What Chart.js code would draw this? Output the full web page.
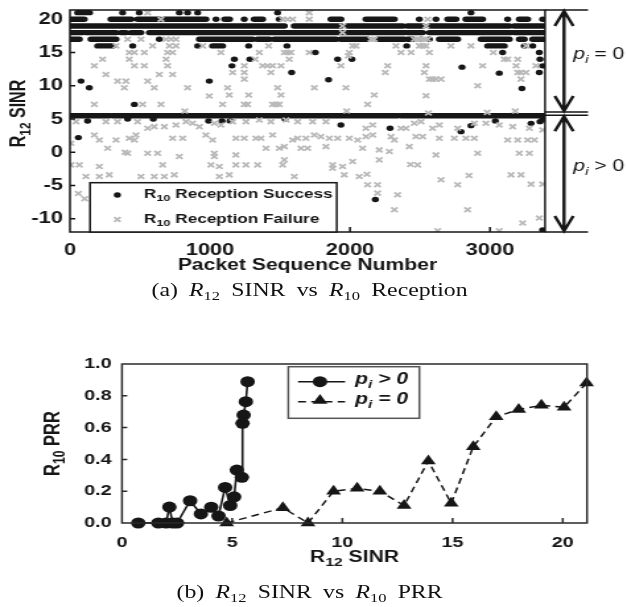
<!DOCTYPE html>
<html>
<head>
<meta charset="utf-8">
<script src="https://cdn.jsdelivr.net/npm/chart.js@4.4.1/dist/chart.umd.min.js"></script>
<style>
  html, body { margin: 0; padding: 0; background: #fff; overflow: hidden; }
  /* the whole figure is stretched sideways in the original */
  #wrap { position: relative; width: 475px; height: 607px; transform: scaleX(1.32); transform-origin: 0 0; }
  #topChart { position: absolute; left: 0; top: 0; }
  #botChart { position: absolute; left: 0; top: 330px; }
  .cap { position: absolute; left: -3px; width: 475px; text-align: center; white-space: nowrap;
         font-family: 'Liberation Serif', 'DejaVu Serif', serif; font-size: 18px; word-spacing: 4px; color: #111; }
  .cap sub { font-size: 12.5px; vertical-align: baseline; position: relative; top: 4px; }
</style>
</head>
<body>
<div id="wrap">
  <canvas id="topChart" width="475" height="282"></canvas>
  <div class="cap" style="top:280px">(a) <i>R</i><sub>12</sub> SINR vs <i>R</i><sub>10</sub> Reception</div>
  <canvas id="botChart" width="475" height="245"></canvas>
  <div class="cap" style="top:582px">(b) <i>R</i><sub>12</sub> SINR vs <i>R</i><sub>10</sub> PRR</div>
</div>
<script>
// ---------- (a) packet sequence vs R12 SINR ----------
const seqTicks = [0, 1000, 2000, 3000];
const sinrTicks = [-10, -5, 0, 5, 10, 15, 20];
const splitLevels = [6.05, 5.55]; // p_i = 0 above, p_i > 0 below

// back-to-back successes sitting on one SINR level, [first, last] packet
const runs21 = [[55, 140]];
const runs20 = [[7, 102], [293, 436], [483, 638], [674, 971], [1105, 1140], [1316, 1376], [1864, 1935], [2114, 2317], [2698, 2757], [2828, 2947], [3209, 3269]];
const runs19 = [[0, 1531], [1602, 1935], [1983, 2376], [2412, 2519], [2567, 3138], [3174, 3388]];
const runs18 = [[7, 90], [114, 329], [364, 400], [436, 507], [567, 2388], [2412, 2519], [2567, 3150], [3174, 3388]];
const runs17 = [[7, 67], [150, 329], [924, 1304], [1340, 1424], [1459, 1495], [1507, 1900], [1935, 2126], [2197, 2388], [2412, 2447], [2638, 2769], [2936, 3138], [3209, 3245], [3305, 3388]];
const runs16 = [[198, 305], [1019, 1090], [2983, 3102]];
const runs55 = [[0, 280], [305, 2340], [2365, 2545], [2565, 3165], [3185, 3388]];

// single successes [packet, SINR]
const successPts = [
  [376, 21], [495, 21], [781, 21], [840, 21], [912, 21], [1483, 21], [2864, 21],
  [1043, 20], [1245, 20], [1495, 20], [2495, 20], [2614, 20], [3126, 20], [3376, 20],
  [638, 17], [2507, 17], [2567, 17],
  [448, 16], [912, 16], [1276, 16], [1550, 16], [2405, 16], [3245, 16], [3305, 16],
  [1752, 15], [3090, 15], [3352, 15], [1174, 14], [1285, 14], [1912, 14], [2014, 14], [3357, 14],
  [1157, 13], [2800, 12.8], [3376, 13], [1583, 12], [3066, 11.9], [3352, 12],
  [79, 10.7], [995, 10.7], [1847, 10.9], [138, 9.7], [3228, 9.6], [460, 7.2],
  [412, 5.0], [595, 5.0], [1536, 5.0], [126, 4.7], [990, 4.7], [1086, 4.7], [1143, 4.7], [3038, 4.7], [3357, 4.6], [3376, 4.9],
  [1935, 4.1], [2864, 4.0], [2286, 3.6], [3293, 4.35], [2793, 3.1],
  [60, 2.2], [2181, -7.1], [3376, -11.7]
];

// failures [packet, SINR]
const failPts = [
  [555, 21], [1709, 21],
  [650, 20], [1519, 20], [1554, 20], [1590, 20], [1709, 20], [2555, 20], [1947, 19], [2543, 19], [1947, 18],
  [412, 17], [507, 17], [686, 17], [722, 17], [757, 17], [2150, 17], [2173, 17], [2459, 17], [2483, 17], [2507, 17], [2531, 17], [2555, 17],
  [329, 16], [590, 16], [710, 16], [757, 16], [948, 16], [1419, 16], [2019, 16], [2043, 16], [2328, 16], [2495, 16], [2519, 16], [2543, 16], [2721, 16], [2864, 16], [3257, 16],
  [424, 15], [460, 15], [531, 15], [697, 15], [733, 15], [1078, 15], [1352, 15], [1531, 15], [1554, 15], [1578, 15], [1709, 15], [1995, 15], [2364, 15], [2436, 15], [2567, 15], [3024, 15],
  [233, 14], [424, 14], [686, 14], [1323, 14], [1566, 14], [1988, 14.5], [3102, 14], [3126, 14], [3198, 14],
  [174, 13], [460, 13], [531, 13], [697, 13], [1245, 13], [1376, 13], [1411, 13], [1447, 13], [1507, 13], [1935, 13], [2269, 13], [2543, 13], [2947, 13], [3186, 13], [3328, 13],
  [257, 11.7], [638, 11.7], [733, 11.7], [1162, 12], [1245, 12], [1435, 12], [2252, 12], [2531, 12], [3198, 12], [3221, 12], [3257, 12],
  [340, 10.7], [400, 10.7], [555, 10.7], [1245, 11], [2567, 11], [2590, 11], [2614, 11], [2650, 11], [3221, 11],
  [388, 9.7], [602, 9.7], [840, 9.7], [1126, 9.7], [1483, 9.7], [1745, 9.7], [1971, 9.7], [2912, 10],
  [995, 8.45], [1138, 8.6], [1276, 8.6], [1507, 8.6], [2173, 8.6], [2543, 8.5],
  [174, 7.2], [519, 7.2], [650, 7.2], [1090, 7.2], [1245, 7.2], [1269, 7.2], [1447, 7.2], [1471, 7.2], [1495, 7.2], [2126, 7.2],
  [820, 6.2], [1976, 6.2], [2560, 5.9], [2980, 6.0], [3180, 6.2],
  [43, 4.6], [257, 4.6], [340, 4.6], [483, 4.6], [555, 3.6], [602, 3.85], [674, 3.85], [757, 4.1], [829, 4.6], [876, 4.35], [924, 3.85], [1031, 4.35], [1078, 4.1],
  [1162, 4.6], [1257, 4.6], [1352, 4.85], [1435, 4.6], [1543, 4.85], [1626, 4.6], [1733, 4.6], [1828, 4.6], [2114, 3.6], [2162, 4.1],
  [2364, 3.6], [2400, 3.6], [2459, 4.35], [2507, 4.6], [2590, 3.6], [2638, 4.1], [2769, 3.6], [2888, 4.35], [2971, 4.35], [3066, 4.1], [3162, 3.85], [3281, 3.6], [3376, 3.35],
  [174, 2.6], [210, 1.85], [329, 1.85], [424, 2.1], [460, 1.85], [471, 2.6], [733, 2.1], [805, 2.1], [971, 2.6], [1019, 1.85],
  [1185, 2.1], [1245, 2.1], [1328, 2.1], [1364, 2.1], [1447, 2.6], [1590, 1.85], [1626, 2.1], [1685, 2.1], [1745, 2.6], [1792, 2.35], [1852, 2.1], [1912, 2.1], [1995, 2.1], [2055, 1.85], [2114, 2.35], [2162, 2.6],
  [2293, 2.35], [2317, 1.85], [2471, 2.35], [2519, 2.35], [2638, 2.1], [2745, 2.1], [2828, 2.1], [2888, 2.1], [3126, 1.85], [3198, 1.85], [3269, 1.85], [3317, 1.85],
  [7, 1.35], [269, 0.6], [1400, 0.6], [1495, 0.6], [1531, 0.85], [1650, 0.6], [1697, 0.6], [1828, 0.85], [2090, 0.6], [2209, 0.35], [2281, 0.1], [2424, 0.85],
  [393, 0.0], [412, -0.15], [555, -0.15], [626, -0.15], [781, -0.65], [1031, -0.15], [1031, -0.65], [1185, -0.4], [2614, -0.4], [2912, -0.15], [3209, -0.15], [3281, -0.15],
  [7, -1.9], [67, -1.9], [210, -2.15], [662, -1.9], [1007, -1.9], [1067, -2.15], [1185, -1.9], [1257, -1.9], [1340, -1.9], [1519, -1.9], [1531, -1.15], [1876, -1.9], [1947, -2.15], [2019, -1.4], [2209, -1.15], [2432, -1.85], [2483, -1.9],
  [114, -3.65], [210, -3.65], [281, -3.4], [507, -3.65], [602, -3.65], [674, -3.65], [745, -3.4], [1067, -3.65], [1138, -3.4], [1602, -3.65], [1876, -2.4], [1959, -3.4], [2066, -3.65], [2121, -3.3], [2850, -3.5], [3150, -3.4], [3221, -3.4],
  [2126, -4.9], [2197, -4.9], [2650, -4.15], [2769, -4.9], [3293, -4.8], [3376, -4.8],
  [60, -6.2], [105, -7], [2197, -6.15], [2340, -6.4],
  [2317, -8.65], [2840, -8.65], [3352, -9.9], [3233, -10.65],
  [1143, -11.9], [2626, -11.8], [3066, -11.8]
];

// ---------- (b) R12 SINR vs R10 PRR ----------
const prrTicksX = [0, 5, 10, 15, 20];
const prrTicksY = [0, 0.2, 0.4, 0.6, 0.8, 1.0];
const sinrPos = [0.74, 1.65, 2.0, 2.15, 2.3, 2.5, 3.09, 3.58, 4.05, 4.38, 4.68, 4.91, 5.09, 5.21, 5.44, 5.47, 5.52, 5.62, 5.7];
const prrPos  = [0, 0, 0, 0.1, 0, 0, 0.14, 0.057, 0.099, 0.044, 0.224, 0.11, 0.165, 0.333, 0.287, 0.627, 0.679, 0.763, 0.889];
const sinrZero = [4.75, 7.3, 8.44, 9.6, 10.67, 11.7, 12.8, 13.9, 14.94, 15.94, 16.98, 18.0, 19.03, 20.06, 21.08];
const prrZero  = [0, 0.096, 0, 0.2, 0.218, 0.2, 0.11, 0.39, 0.124, 0.48, 0.668, 0.714, 0.74, 0.728, 0.88];

const INK = '#161616';
const GREY = '#b9b9b9';
const SANS = '"Liberation Sans", Arial, sans-serif';

// text with subscripts: parts = [text, isSub, isItalic]
function drawRich(ctx, parts, x, y, size, weight, align) {
  const fontFor = (sub, it) => (it ? 'italic ' : '') + weight + ' ' + (sub ? size * 0.74 : size) + 'px ' + SANS;
  let w = 0;
  parts.forEach(([t, sub, it]) => { ctx.font = fontFor(sub, it); w += ctx.measureText(t).width; });
  let cx = align === 'center' ? x - w / 2 : x;
  ctx.textAlign = 'left';
  ctx.textBaseline = 'middle';
  parts.forEach(([t, sub, it]) => {
    ctx.font = fontFor(sub, it);
    ctx.fillText(t, cx, sub ? y + size * 0.32 : y);
    cx += ctx.measureText(t).width;
  });
}

function arrow(ctx, x, y0, y1, head) {
  ctx.beginPath();
  ctx.moveTo(x, y0); ctx.lineTo(x, y1);
  ctx.moveTo(x - 7, y0 + head); ctx.lineTo(x, y0); ctx.lineTo(x + 7, y0 + head);
  ctx.moveTo(x - 7, y1 - head); ctx.lineTo(x, y1); ctx.lineTo(x + 7, y1 - head);
  ctx.stroke();
}

const tickFont = size => ({ family: SANS, weight: 'bold', size, lineHeight: 1.2 });

const topDecor = {
  id: 'topDecor',
  afterDatasetsDraw(chart) {
    const { ctx, chartArea: a, scales: { x, y } } = chart;
    ctx.save();
    ctx.strokeStyle = INK;
    ctx.fillStyle = INK;
    ctx.lineWidth = 1.5;
    ctx.strokeRect(a.left, a.top, a.right - a.left, a.bottom - a.top);
    ctx.beginPath();
    sinrTicks.forEach(v => { const py = y.getPixelForValue(v); ctx.moveTo(a.left, py); ctx.lineTo(a.left + 4, py); });
    seqTicks.slice(1).forEach(v => { const px = x.getPixelForValue(v); ctx.moveTo(px, a.bottom); ctx.lineTo(px, a.bottom - 5); });
    ctx.stroke();

    // legend
    const lx0 = 68.2, ly0 = 182.7, lx1 = 255.1;
    ctx.fillStyle = '#fff';
    ctx.fillRect(lx0, ly0, lx1 - lx0, a.bottom - ly0);
    ctx.strokeRect(lx0, ly0, lx1 - lx0, a.bottom - ly0);
    ctx.fillStyle = INK;
    Chart.helpers.drawPoint(ctx, { pointStyle: 'circle', radius: 2.7, rotation: 0, borderWidth: 0 }, 88.9, 195);
    ctx.strokeStyle = GREY; ctx.lineWidth = 1.8;
    Chart.helpers.drawPoint(ctx, { pointStyle: 'crossRot', radius: 3.4, rotation: 0, borderWidth: 1.8 }, 88.9, 219.5);
    ctx.fillStyle = INK;
    drawRich(ctx, [['R'], ['10', 1], [' Reception Success']], 109.1, 194.5, 13, 'bold', 'left');
    drawRich(ctx, [['R'], ['10', 1], [' Reception Failure']], 109.1, 219, 13, 'bold', 'left');

    // p_i brackets on the right
    const xEnd = 445.5, ax = 427.3;
    const s0 = y.getPixelForValue(splitLevels[0]), s1 = y.getPixelForValue(splitLevels[1]);
    ctx.strokeStyle = INK; ctx.lineWidth = 1.5;
    ctx.beginPath();
    [a.top, s0, s1, a.bottom].forEach(py => { ctx.moveTo(a.right, py); ctx.lineTo(xEnd, py); });
    ctx.stroke();
    ctx.lineWidth = 2.4;
    arrow(ctx, ax, a.top + 1, s0 - 1, 15);
    arrow(ctx, ax, s1 + 1, a.bottom - 1, 15);
    drawRich(ctx, [['p', 0, 1], ['i', 1, 1], [' = 0']], 434.3, 55, 16, 'normal', 'left');
    drawRich(ctx, [['p', 0, 1], ['i', 1, 1], [' > 0']], 434.3, 166.5, 16, 'normal', 'left');

    // axis titles
    drawRich(ctx, [['Packet Sequence Number']], (a.left + a.right) / 2, 265.5, 16, 'bold', 'center');
    ctx.translate(14.5, 113.5);
    ctx.rotate(-Math.PI / 2);
    drawRich(ctx, [['R'], ['12', 1], [' SINR']], 0, 0, 16, 'bold', 'center');
    ctx.restore();
  }
};

const bandRows = [[21, runs21], [20, runs20], [19, runs19], [18, runs18], [17, runs17], [16, runs16], [5.5, runs55]];

new Chart(document.getElementById('topChart'), {
  type: 'scatter',
  data: {
    datasets: [
      {
        label: 'R10 Reception Failure',
        data: failPts.map(([x, y]) => ({ x, y })),
        pointStyle: 'crossRot', pointRadius: 3.4, borderColor: GREY, borderWidth: 1.8,
        backgroundColor: 'transparent', order: 0
      },
      {
        label: 'R10 Reception Success',
        data: successPts.map(([x, y]) => ({ x, y })),
        pointStyle: 'circle', pointRadius: 2.7, backgroundColor: INK, borderWidth: 0, order: 1
      },
      ...bandRows.map(([lvl, runs]) => ({
        label: 'run ' + lvl,
        data: runs.flatMap(([s, e]) => [{ x: s, y: lvl }, { x: e, y: lvl }, { x: e, y: null }]),
        showLine: true, spanGaps: false, borderColor: INK, borderWidth: 5.4, borderCapStyle: 'round',
        pointRadius: 0, order: 1
      }))
    ]
  },
  options: {
    responsive: false,
    animation: false,
    events: [],
    layout: { padding: { left: 0, top: 10, right: 62.1, bottom: 0 } },
    plugins: { legend: { display: false }, tooltip: { enabled: false } },
    scales: {
      x: {
        type: 'linear', min: 0, max: 3393,
        grid: { display: false, drawTicks: false }, border: { display: false },
        ticks: { font: tickFont(16.5), color: INK, padding: 8.6, maxRotation: 0, callback: v => String(v) },
        afterBuildTicks: s => { s.ticks = seqTicks.map(v => ({ value: v })); },
        afterFit: s => { s.height = 50; s.paddingLeft = 0; s.paddingRight = 0; }
      },
      y: {
        min: -12, max: 21.4,
        grid: { display: false, drawTicks: false }, border: { display: false },
        ticks: { font: tickFont(16.5), color: INK, padding: 5.3, callback: v => String(v) },
        afterBuildTicks: s => { s.ticks = sinrTicks.map(v => ({ value: v })); },
        afterFit: s => { s.width = 53; s.paddingTop = 0; s.paddingBottom = 0; }
      }
    }
  },
  plugins: [topDecor]
});

const botDecor = {
  id: 'botDecor',
  afterDatasetsDraw(chart) {
    const { ctx, chartArea: a, scales: { x, y } } = chart;
    ctx.save();
    ctx.strokeStyle = '#2a2a2a';
    ctx.lineWidth = 1.5;
    ctx.strokeRect(a.left, a.top, a.right - a.left, a.bottom - a.top);
    ctx.beginPath();
    prrTicksY.slice(1, -1).forEach(v => { const py = y.getPixelForValue(v); ctx.moveTo(a.left, py); ctx.lineTo(a.left + 4, py); });
    prrTicksX.slice(1).forEach(v => { const px = x.getPixelForValue(v); ctx.moveTo(px, a.bottom); ctx.lineTo(px, a.bottom - 5); });
    ctx.stroke();

    // legend
    const lx0 = 218.4, ly0 = 36.7, lx1 = 317.7, ly1 = 88.3;
    ctx.fillStyle = '#fff';
    ctx.fillRect(lx0, ly0, lx1 - lx0, ly1 - ly0);
    ctx.strokeStyle = '#555';
    ctx.strokeRect(lx0, ly0, lx1 - lx0, ly1 - ly0);
    ctx.strokeStyle = INK; ctx.fillStyle = INK; ctx.lineWidth = 1.6;
    ctx.beginPath(); ctx.moveTo(225.8, 51.7); ctx.lineTo(261.4, 51.7); ctx.stroke();
    ctx.setLineDash([6, 4]);
    ctx.beginPath(); ctx.moveTo(225.8, 71.7); ctx.lineTo(261.4, 71.7); ctx.stroke();
    ctx.setLineDash([]);
    Chart.helpers.drawPoint(ctx, { pointStyle: 'circle', radius: 5.5, rotation: 0, borderWidth: 0 }, 242.4, 51.7);
    Chart.helpers.drawPoint(ctx, { pointStyle: 'triangle', radius: 6.5, rotation: 0, borderWidth: 0 }, 242.4, 70.5);
    drawRich(ctx, [['p', 0, 1], ['i', 1, 1], [' > 0', 0, 1]], 268.9, 49.5, 16, 'bold', 'left');
    drawRich(ctx, [['p', 0, 1], ['i', 1, 1], [' = 0', 0, 1]], 268.9, 69.5, 16, 'bold', 'left');

    // axis titles
    drawRich(ctx, [['R'], ['12', 1], [' SINR']], (a.left + a.right) / 2, 227.5, 16, 'bold', 'center');
    ctx.translate(40.4, (a.top + a.bottom) / 2);
    ctx.rotate(-Math.PI / 2);
    drawRich(ctx, [['R'], ['10', 1], [' PRR']], 0, 0, 16.5, 'bold', 'center');
    ctx.restore();
  }
};

new Chart(document.getElementById('botChart'), {
  type: 'scatter',
  data: {
    datasets: [
      {
        label: 'p_i > 0',
        data: sinrPos.map((v, i) => ({ x: v, y: prrPos[i] })),
        showLine: true, borderColor: INK, borderWidth: 1.6,
        pointStyle: 'circle', pointRadius: 5.5, pointBackgroundColor: INK, pointBorderWidth: 0, clip: false
      },
      {
        label: 'p_i = 0',
        data: sinrZero.map((v, i) => ({ x: v, y: prrZero[i] })),
        showLine: true, borderColor: INK, borderWidth: 1.5, borderDash: [6, 4],
        pointStyle: 'triangle', pointRadius: 6.5, pointBackgroundColor: INK, pointBorderWidth: 0, clip: false
      }
    ]
  },
  options: {
    responsive: false,
    animation: false,
    events: [],
    layout: { padding: { left: 0, top: 34, right: 30.3, bottom: 0 } },
    plugins: { legend: { display: false }, tooltip: { enabled: false } },
    scales: {
      x: {
        type: 'linear', min: 0, max: 21.1,
        grid: { display: false, drawTicks: false }, border: { display: false },
        ticks: { font: tickFont(15), color: INK, padding: 11, maxRotation: 0, callback: v => String(v) },
        afterBuildTicks: s => { s.ticks = prrTicksX.map(v => ({ value: v })); },
        afterFit: s => { s.height = 52; s.paddingLeft = 0; s.paddingRight = 0; }
      },
      y: {
        min: 0, max: 1.0,
        grid: { display: false, drawTicks: false }, border: { display: false },
        ticks: { font: tickFont(15), color: INK, padding: 7.8, callback: v => v.toFixed(1) },
        afterBuildTicks: s => { s.ticks = prrTicksY.map(v => ({ value: v })); },
        afterFit: s => { s.width = 92.4; s.paddingTop = 0; s.paddingBottom = 0; }
      }
    }
  },
  plugins: [botDecor]
});
</script>
</body>
</html>
